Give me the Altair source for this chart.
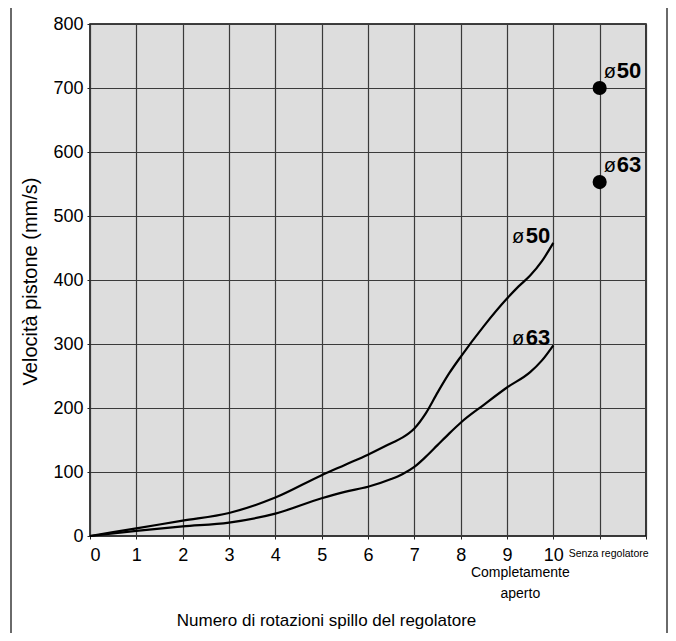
import altair as alt
import pandas as pd

# ---- data ----
turns_50 = [0, 1, 2, 3, 4, 5, 5.5, 6, 6.5, 6.75, 7, 7.25, 7.5, 7.75, 8, 8.5, 9, 9.25, 9.5, 9.75, 10]
speed_50 = [0, 12, 24, 36, 60, 95, 111, 127, 145, 154, 168, 192, 224, 254, 280, 328, 371, 390, 407, 429, 458]
turns_63 = [0, 1, 2, 3, 4, 5, 5.5, 6, 6.5, 6.75, 7, 7.25, 7.5, 7.75, 8, 8.5, 9, 9.5, 9.75, 10]
speed_63 = [0, 8, 15, 21, 35, 59, 69, 77, 89, 97, 108, 124, 142, 160, 177, 205, 232, 256, 274, 298]

free_x = [11, 11]
free_speed = [700, 553]
free_bore = ["50", "63"]

x_ticks = list(range(0, 13))
y_ticks = list(range(0, 801, 100))

FONT = "Liberation Sans, Arial, Helvetica, sans-serif"

rows = []
for t, a in zip(turns_50, speed_50):
    rows.append({"turns": t, "speed": a, "bore": "50"})
for t, b in zip(turns_63, speed_63):
    rows.append({"turns": t, "speed": b, "bore": "63"})
curves = pd.DataFrame(rows)

dots = pd.DataFrame({"turns": free_x, "speed": free_speed, "bore": free_bore})
ends = pd.DataFrame({"turns": [10, 10], "speed": [speed_50[-1], speed_63[-1]],
                     "bore": ["50", "63"], "dy": [-2, -8]})

xscale = alt.Scale(domain=[0, 12], nice=False)
yscale = alt.Scale(domain=[0, 800], nice=False)

x_enc = alt.X("turns:Q", scale=xscale, axis=alt.Axis(
    values=x_ticks, labelExpr="datum.value <= 10 ? datum.label : ''",
    title="Numero di rotazioni spillo del regolatore",
    titleX=236, titleY=84, titleBaseline="middle", titleAnchor="start", titleAlign="center",
    grid=True, gridColor="#3a3a3a", gridWidth=1.2, gridOpacity=1,
    tickSize=3, tickColor="#222", labelPadding=7, domain=False,
    labelFontSize=18, labelFont=FONT, labelColor="black",
    titleFontSize=17, titleFont=FONT, titleFontWeight="normal", titleColor="black"))
y_enc = alt.Y("speed:Q", scale=yscale, axis=alt.Axis(
    values=y_ticks, title="Velocità pistone (mm/s)",
    titleX=-60, titleY=257, titleAngle=270, titleAlign="center", titleBaseline="middle",
    titleAnchor="start",
    grid=True, gridColor="#3a3a3a", gridWidth=1.2, gridOpacity=1,
    tickSize=3, tickColor="#222", labelPadding=4, domain=False,
    labelFontSize=18, labelFont=FONT, labelColor="black",
    titleFontSize=20, titleFont=FONT, titleFontWeight="normal", titleColor="black"))

lines = alt.Chart(curves).mark_line(color="black", strokeWidth=2.2, interpolate="monotone").encode(
    x=x_enc, y=y_enc, detail="bore:N")

points = alt.Chart(dots).mark_circle(color="black", opacity=1, size=200).encode(
    x=alt.X("turns:Q", scale=xscale), y=alt.Y("speed:Q", scale=yscale))

# labels next to the free-flow dots
dot_phi = alt.Chart(dots).mark_text(text="ø", align="left", baseline="alphabetic",
                                    dx=4, dy=-10, fontSize=20, font=FONT, color="black").encode(
    x=alt.X("turns:Q", scale=xscale), y=alt.Y("speed:Q", scale=yscale))
dot_num = alt.Chart(dots).mark_text(align="left", baseline="alphabetic", dx=17, dy=-10,
                                    fontSize=22, fontWeight="bold", font=FONT, color="black").encode(
    x=alt.X("turns:Q", scale=xscale), y=alt.Y("speed:Q", scale=yscale), text="bore:N")

# labels at the curve ends
end_num = alt.Chart(ends).mark_text(align="right", baseline="alphabetic",
                                    fontSize=22, fontWeight="bold", font=FONT, color="black", dx=-3).encode(
    x=alt.X("turns:Q", scale=xscale), y=alt.Y("speed:Q", scale=yscale), text="bore:N",
    yOffset=alt.YOffset("dy:Q", scale=None))
end_phi = alt.Chart(ends).mark_text(text="ø", align="right", baseline="alphabetic",
                                    fontSize=20, font=FONT, color="black", dx=-29).encode(
    x=alt.X("turns:Q", scale=xscale), y=alt.Y("speed:Q", scale=yscale),
    yOffset=alt.YOffset("dy:Q", scale=None))

# extra axis annotations
notes = pd.DataFrame({"turns": [11], "speed": [0], "txt": ["Senza regolatore"]})
note_free = alt.Chart(notes).mark_text(align="center", baseline="alphabetic", dx=9, dy=21,
                                       fontSize=10.5, font=FONT, color="black").encode(
    x=alt.X("turns:Q", scale=xscale), y=alt.Y("speed:Q", scale=yscale), text="txt:N")
notes2 = pd.DataFrame({"turns": [10], "speed": [0], "txt": [["Completamente", "aperto"]]})
note_open = alt.Chart(notes2).mark_text(align="center", baseline="alphabetic", dx=-33, dy=41,
                                        lineHeight=21, fontSize=14, font=FONT, color="black").encode(
    x=alt.X("turns:Q", scale=xscale), y=alt.Y("speed:Q", scale=yscale), text="txt")

# outer frame (open at the bottom)
frame_df = pd.DataFrame({"k": [0]})
frame_left = alt.Chart(frame_df).mark_rule(color="#6a6a6a", strokeWidth=2).encode(
    x=alt.value(-79), y=alt.value(-21), y2=alt.value(640))
frame_right = alt.Chart(frame_df).mark_rule(color="#6a6a6a", strokeWidth=2).encode(
    x=alt.value(577), y=alt.value(-21), y2=alt.value(640))
frame_top = alt.Chart(frame_df).mark_rule(color="#6a6a6a", strokeWidth=2).encode(
    x=alt.value(-80), x2=alt.value(578), y=alt.value(-21))

chart = alt.layer(
    lines, points, dot_phi, dot_num, end_num, end_phi, note_free, note_open,
    frame_left, frame_right, frame_top
).properties(
    width=556, height=512,
    autosize=alt.AutoSizeParams(type="none"),
    padding={"left": 82, "top": 16, "right": 22, "bottom": 97},
    background="white",
).configure_view(
    fill="#dddddd", stroke="black", strokeWidth=1.5
)

chart.save("out.html", embed_options={"renderer": "svg", "actions": False})
